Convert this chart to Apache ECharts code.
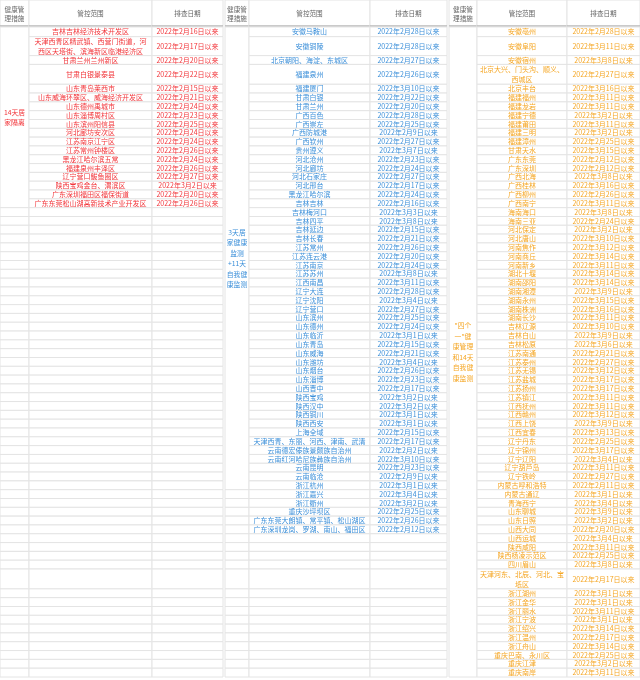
<!DOCTYPE html>
<html>
<head>
<meta charset="utf-8">
<script src="https://cdn.jsdelivr.net/npm/echarts@6/dist/echarts.min.js"></script>
<style>
html, body { margin: 0; padding: 0; background: #fff; }
#main { width: 640px; height: 680px; }
</style>
</head>
<body>
<div id="main"></div>
<script>
// 表头和三类健康管理措施
var headers = ['健康管\n理措施', '管控范围', '排查日期'];
var measures = ['14天居\n家隔离', '3天居\n家健康\n监测\n+11天\n自我健\n康监测', '"四个\n一"健\n康管理\n和14天\n自我健\n康监测'];

// 14天居家隔离
var redPlaces = ['吉林吉林经济技术开发区', '天津西青区精武镇、西营门街道，河\n西区天塔街、滨海新区临港经济区', '甘肃兰州兰州新区', '甘肃白银景泰县',
  '山东青岛莱西市', '山东威海环翠区、威海经济开发区', '山东德州禹城市', '山东淄博周村区', '山东滨州阳信县', '河北廊坊安次区',
  '江苏南京江宁区', '江苏常州钟楼区', '黑龙江哈尔滨五常', '福建泉州丰泽区', '辽宁营口鲅鱼圈区', '陕西宝鸡金台、渭滨区',
  '广东深圳福田区福保街道', '广东东莞松山湖高新技术产业开发区'];
var redDates = ['2月16日', '2月17日', '2月20日', '2月22日', '2月15日', '2月21日', '2月24日', '2月23日', '2月25日', '2月24日',
  '2月24日', '2月26日', '2月24日', '2月26日', '2月27日', '3月2日', '2月20日', '2月26日'];

// 3天居家健康监测+11天自我健康监测
var bluePlaces = ['安徽马鞍山', '安徽铜陵', '北京朝阳、海淀、东城区', '福建泉州', '福建厦门', '甘肃白银', '甘肃兰州', '广西百色',
  '广西崇左', '广西防城港', '广西钦州', '贵州遵义', '河北沧州', '河北廊坊', '河北石家庄', '河北邢台', '黑龙江哈尔滨',
  '吉林吉林', '吉林梅河口', '吉林四平', '吉林延边', '吉林长春', '江苏常州', '江苏连云港', '江苏南京', '江苏苏州',
  '江西南昌', '辽宁大连', '辽宁沈阳', '辽宁营口', '山东滨州', '山东德州', '山东临沂', '山东青岛', '山东威海', '山东潍坊',
  '山东烟台', '山东淄博', '山西晋中', '陕西宝鸡', '陕西汉中', '陕西铜川', '陕西西安', '上海全域',
  '天津西青、东丽、河西、津南、武清', '云南德宏傣族景颇族自治州', '云南红河哈尼族彝族自治州', '云南昆明', '云南临沧',
  '浙江杭州', '浙江嘉兴', '浙江衢州', '重庆沙坪坝区', '广东东莞大朗镇、常平镇、松山湖区', '广东深圳龙岗、罗湖、南山、福田区'];
var blueDates = ['2月28日', '2月28日', '2月27日', '2月26日', '3月10日', '2月22日', '2月20日', '2月28日', '2月25日', '2月9日',
  '2月27日', '3月7日', '2月23日', '2月24日', '2月27日', '2月17日', '2月24日', '2月16日', '3月3日', '3月8日',
  '2月15日', '2月21日', '2月26日', '2月20日', '2月24日', '3月8日', '3月11日', '2月28日', '3月4日', '2月27日',
  '2月25日', '2月24日', '3月1日', '2月15日', '2月21日', '3月4日', '2月26日', '2月23日', '2月17日', '3月2日',
  '3月2日', '3月1日', '3月1日', '2月15日', '2月17日', '2月2日', '3月10日', '2月23日', '2月9日', '3月1日',
  '3月4日', '3月2日', '2月25日', '2月26日', '2月12日'];

// "四个一"健康管理和14天自我健康监测
var orangePlaces = ['安徽亳州', '安徽阜阳', '安徽宿州', '北京大兴、门头沟、顺义、\n西城区', '北京丰台', '福建福州', '福建龙岩',
  '福建宁德', '福建莆田', '福建三明', '福建漳州', '甘肃天水', '广东东莞', '广东深圳', '广西北海', '广西桂林', '广西柳州',
  '广西南宁', '海南海口', '海南三亚', '河北保定', '河北唐山', '河南焦作', '河南商丘', '河南新乡', '湖北十堰', '湖南邵阳',
  '湖南湘潭', '湖南永州', '湖南株洲', '湖南长沙', '吉林辽源', '吉林白山', '吉林松原', '江苏南通', '江苏泰州', '江苏无锡',
  '江苏盐城', '江苏扬州', '江苏镇江', '江西抚州', '江西赣州', '江西上饶', '江西宜春', '辽宁丹东', '辽宁锦州', '辽宁辽阳',
  '辽宁葫芦岛', '辽宁铁岭', '内蒙古呼和浩特', '内蒙古通辽', '青海西宁', '山东聊城', '山东日照', '山西大同', '山西运城',
  '陕西咸阳', '陕西杨凌示范区', '四川眉山', '天津河东、北辰、河北、宝\n坻区', '浙江湖州', '浙江金华', '浙江丽水',
  '浙江宁波', '浙江绍兴', '浙江温州', '浙江舟山', '重庆巴南、永川区', '重庆江津', '重庆南岸'];
var orangeDates = ['2月28日', '3月11日', '3月8日', '2月27日', '3月16日', '3月11日', '3月11日', '3月2日', '3月11日', '3月2日',
  '2月25日', '3月15日', '2月12日', '2月12日', '3月8日', '3月16日', '2月26日', '3月11日', '3月8日', '2月24日',
  '3月2日', '3月10日', '3月12日', '3月14日', '3月11日', '3月14日', '3月14日', '3月9日', '3月15日', '3月16日',
  '3月11日', '3月10日', '3月9日', '3月6日', '2月21日', '2月27日', '3月12日', '3月17日', '3月17日', '3月11日',
  '3月11日', '3月12日', '3月9日', '3月13日', '2月25日', '3月17日', '3月4日', '3月11日', '2月27日', '2月11日',
  '3月1日', '3月4日', '3月9日', '3月2日', '2月20日', '3月4日', '3月11日', '2月25日', '3月8日', '2月17日',
  '3月1日', '3月1日', '3月11日', '3月1日', '3月14日', '2月17日', '3月14日', '2月25日', '3月2日', '3月11日'];

var groups = [
  { places: redPlaces, dates: redDates, color: '#f2353a', mergeEnd: 17, edges: [0, 29, 152, 223] },
  { places: bluePlaces, dates: blueDates, color: '#3b8fd9', mergeEnd: 49, edges: [225, 249, 370, 447] },
  { places: orangePlaces, dates: orangeDates, color: '#f5a623', mergeEnd: 69, edges: [449, 477, 567, 640] }
];

var rowCount = 70;
var tallRows = { 0: 1.1, 1: 2.15, 3: 2.25, 59: 2.25 };
var headerUnits = 3.06;
// 行的累计位置（行单位），rowPos[0] 为表头顶
var rowPos = [-headerUnits, 0];
for (var i = 0; i < rowCount; i++) {
  rowPos.push(rowPos[rowPos.length - 1] + (tallRows[i] || 1));
}
var yMax = rowPos[rowPos.length - 1] + 0.34;

function fmtDate(d) {
  return d ? '2022年' + d + '以来' : '';
}

// 生成单元格列表
var cells = [];
var cellInfo = [];
function addCell(g, c, r0, r1, text, kind) {
  cells.push([g, c, r0, r1]);
  cellInfo.push({ text: text, kind: kind });
}
groups.forEach(function (grp, g) {
  headers.forEach(function (h, c) {
    addCell(g, c, 0, 1, h, 'header');
  });
  addCell(g, 0, 1, grp.mergeEnd + 2, measures[g], 'measure');
  for (var r = 0; r < rowCount; r++) {
    if (r > grp.mergeEnd) addCell(g, 0, r + 1, r + 2, '', 'body');
    addCell(g, 1, r + 1, r + 2, grp.places[r] || '', 'body');
    addCell(g, 2, r + 1, r + 2, fmtDate(grp.dates[r]), 'body');
  }
});

function renderCell(params, api) {
  var g = api.value(0), c = api.value(1), r0 = api.value(2), r1 = api.value(3);
  var info = cellInfo[params.dataIndex];
  var edges = groups[g].edges;
  var p0 = api.coord([edges[c], rowPos[r0]]);
  var p1 = api.coord([edges[c + 1], rowPos[r1]]);
  var isHeader = info.kind === 'header';
  var children = [{
    type: 'rect',
    shape: { x: p0[0], y: p0[1], width: p1[0] - p0[0], height: p1[1] - p0[1] },
    style: { fill: '#fff', stroke: '#e4e4e4', lineWidth: 1 }
  }];
  if (isHeader) {
    children.push({
      type: 'line',
      shape: { x1: p0[0], y1: p1[1] - 1, x2: p1[0], y2: p1[1] - 1 },
      style: { stroke: '#b8b8b8', lineWidth: 1.5 }
    });
  }
  if (info.text) {
    children.push({
      type: 'text',
      style: {
        text: info.text,
        x: (p0[0] + p1[0]) / 2,
        y: (p0[1] + p1[1]) / 2,
        align: 'center',
        verticalAlign: 'middle',
        fill: isHeader ? '#666' : groups[g].color,
        fontSize: isHeader ? 6.6 : (info.kind === 'measure' ? 6.8 : 7),
        lineHeight: isHeader ? 9 : (info.kind === 'measure' ? 10.5 : 10),
        fontFamily: 'Noto Sans CJK SC'
      }
    });
  }
  return { type: 'group', children: children };
}

var chart = echarts.init(document.getElementById('main'));
chart.setOption({
  backgroundColor: '#fff',
  animation: false,
  grid: { left: 0, right: 0, top: 0, bottom: 0 },
  xAxis: { type: 'value', min: 0, max: 640, show: false },
  yAxis: { type: 'value', min: -headerUnits, max: yMax, inverse: true, show: false },
  series: [{
    type: 'custom',
    clip: false,
    renderItem: renderCell,
    data: cells
  }]
});
</script>
</body>
</html>
